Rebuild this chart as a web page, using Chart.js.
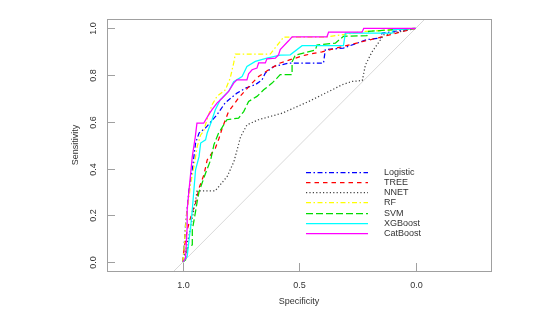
<!DOCTYPE html>
<html lang="en">
<head>
<meta charset="UTF-8">
<script src="https://cdn.jsdelivr.net/npm/chart.js"></script>
<title>ROC</title>
<style>
  html, body { margin: 0; padding: 0; background: #fff; }
  #wrap { width: 557px; height: 319px; }
</style>
</head>
<body>
<div id="wrap"><canvas id="roc"></canvas></div>
<script>
    // valores (especificidade / sensibilidade)
    const modelNames = ['Logistic', 'TREE', 'NNET', 'RF', 'SVM', 'XGBoost', 'CatBoost'];

    const logisticSpec = [1, 0.989, 0.974, 0.960, 0.946, 0.931, 0.904, 0.854, 0.818, 0.768, 0.732, 0.689, 0.660, 0.646, 0.610, 0.547, 0.396, 0.388, 0.310, 0.209, 0.152, 0.144, 0.037, 0];
    const logisticSens = [0, 0.159, 0.309, 0.394, 0.509, 0.552, 0.573, 0.630, 0.682, 0.723, 0.744, 0.759, 0.780, 0.809, 0.837, 0.851, 0.851, 0.909, 0.916, 0.952, 0.959, 0.980, 0.995, 1];

    const treeSpec = [1, 0.996, 0.982, 0.960, 0.946, 0.931, 0.910, 0.896, 0.861, 0.845, 0.831, 0.804, 0.761, 0.703, 0.675, 0.632, 0.582, 0.539, 0.474, 0.402, 0.316, 0.230, 0.144, 0.058, 0];
    const treeSens = [0, 0.051, 0.137, 0.216, 0.252, 0.316, 0.373, 0.437, 0.487, 0.530, 0.574, 0.644, 0.702, 0.766, 0.794, 0.823, 0.852, 0.866, 0.886, 0.900, 0.922, 0.943, 0.964, 0.986, 1];

    const nnetSpec = [1, 0.969, 0.939, 0.862, 0.810, 0.781, 0.752, 0.725, 0.676, 0.574, 0.460, 0.359, 0.316, 0.273, 0.229, 0.216, 0.187, 0.152, 0.138, 0];
    const nnetSens = [0, 0.137, 0.304, 0.304, 0.366, 0.430, 0.537, 0.587, 0.609, 0.637, 0.687, 0.737, 0.759, 0.773, 0.777, 0.843, 0.900, 0.950, 0.972, 1];

    const rfSpec = [1, 0.996, 0.989, 0.982, 0.974, 0.967, 0.953, 0.939, 0.924, 0.911, 0.897, 0.875, 0.854, 0.818, 0.797, 0.782, 0.775, 0.625, 0.567, 0.388, 0.273, 0.216, 0];
    const rfSens = [0, 0.051, 0.151, 0.223, 0.280, 0.337, 0.408, 0.494, 0.544, 0.561, 0.609, 0.673, 0.709, 0.737, 0.787, 0.852, 0.890, 0.890, 0.963, 0.963, 0.979, 0.987, 1];

    const svmSpec = [1, 0.989, 0.982, 0.960, 0.960, 0.946, 0.939, 0.931, 0.903, 0.881, 0.867, 0.847, 0.825, 0.811, 0.761, 0.739, 0.718, 0.682, 0.653, 0.617, 0.596, 0.582, 0.531, 0.531, 0.517, 0.431, 0.424, 0.345, 0.310, 0.209, 0.202, 0.095, 0];
    const svmSens = [0, 0.009, 0.059, 0.073, 0.137, 0.216, 0.258, 0.301, 0.380, 0.437, 0.502, 0.552, 0.587, 0.609, 0.616, 0.644, 0.687, 0.709, 0.737, 0.766, 0.787, 0.802, 0.802, 0.857, 0.886, 0.907, 0.929, 0.937, 0.966, 0.969, 0.987, 0.995, 1];

    const xgbSpec = [1, 0.982, 0.974, 0.967, 0.960, 0.953, 0.946, 0.931, 0.924, 0.903, 0.896, 0.875, 0.861, 0.840, 0.804, 0.782, 0.746, 0.725, 0.689, 0.639, 0.582, 0.539, 0.488, 0.310, 0.302, 0.101, 0.095, 0];
    const xgbSens = [0, 0.023, 0.094, 0.151, 0.223, 0.309, 0.394, 0.451, 0.509, 0.523, 0.552, 0.609, 0.652, 0.694, 0.730, 0.772, 0.794, 0.837, 0.859, 0.873, 0.886, 0.887, 0.926, 0.926, 0.980, 0.980, 0.995, 1];

    const catSpec = [1, 0.989, 0.982, 0.982, 0.974, 0.967, 0.960, 0.947, 0.940, 0.911, 0.890, 0.875, 0.854, 0.832, 0.804, 0.782, 0.768, 0.725, 0.718, 0.703, 0.682, 0.675, 0.646, 0.639, 0.603, 0.589, 0.582, 0.546, 0.531, 0.381, 0.374, 0.230, 0.223, 0];
    const catSens = [0, 0.016, 0.151, 0.223, 0.309, 0.380, 0.451, 0.537, 0.594, 0.594, 0.630, 0.652, 0.680, 0.701, 0.730, 0.766, 0.780, 0.780, 0.806, 0.823, 0.830, 0.852, 0.852, 0.870, 0.873, 0.887, 0.909, 0.947, 0.964, 0.964, 0.984, 0.984, 1.0, 1];

    const xTicks = [1.0, 0.5, 0.0];
    const yTicks = [0.0, 0.2, 0.4, 0.6, 0.8, 1.0];

    const specs = [logisticSpec, treeSpec, nnetSpec, rfSpec, svmSpec, xgbSpec, catSpec];
    const senss = [logisticSens, treeSens, nnetSens, rfSens, svmSens, xgbSens, catSens];

    const cores = ['#0000ff', '#ff0000', '#444444', '#ffff00', '#00dd00', '#00ffff', '#ff00ff'];
    const tracos = [[5, 2.5, 1.5, 2.5], [4.5, 4], [1.2, 2.2], [5, 2.5, 1.5, 2.5], [7, 3], [], []];

    const FONT = '9px "Liberation Sans", Arial, sans-serif';
    const TXT = '#333333';
    const AXIS = '#a0a0a0';
    const LW = 1.25;

    var datasets = modelNames.map((nome, i) => ({
        label: nome,
        data: specs[i].map((s, k) => ({ x: s, y: senss[i][k] })),
        borderColor: cores[i],
        borderDash: tracos[i],
        borderWidth: LW,
        pointRadius: 0,
        showLine: true,
        tension: 0,
        order: modelNames.length - i // CatBoost por cima
    }));

    // diagonal de referência
    datasets.push({
        label: 'diag',
        data: [{ x: 1.5, y: -0.5 }, { x: -0.5, y: 1.5 }],
        borderColor: '#d8d8d8',
        borderWidth: 1,
        pointRadius: 0,
        showLine: true,
        order: 99
    });

    const moldura = {
        id: 'moldura',
        afterDraw(chart) {
            const ctx = chart.ctx;
            const a = chart.chartArea;
            const xs = chart.scales.x, ys = chart.scales.y;
            ctx.save();
            ctx.strokeStyle = AXIS;
            ctx.lineWidth = 1;
            ctx.strokeRect(Math.round(a.left) + 0.5, Math.round(a.top) + 0.5, Math.round(a.right - a.left), Math.round(a.bottom - a.top));

            ctx.font = FONT;
            ctx.fillStyle = TXT;
            // ticks eixo x (para dentro)
            ctx.textAlign = 'center';
            ctx.textBaseline = 'middle';
            xTicks.forEach(v => {
                const px = Math.round(xs.getPixelForValue(v)) + 0.5;
                ctx.beginPath();
                ctx.moveTo(px, a.bottom);
                ctx.lineTo(px, a.bottom - 8);
                ctx.stroke();
                ctx.fillText(v.toFixed(1), px, 286);
            });
            // ticks eixo y
            yTicks.forEach(v => {
                const py = Math.round(ys.getPixelForValue(v)) + 0.5;
                ctx.beginPath();
                ctx.moveTo(a.left, py);
                ctx.lineTo(a.left + 8, py);
                ctx.stroke();
                ctx.save();
                ctx.translate(93.5, py);
                ctx.rotate(-Math.PI / 2);
                ctx.fillText(v.toFixed(1), 0, 0);
                ctx.restore();
            });
            // títulos
            ctx.fillText('Specificity', (a.left + a.right) / 2, 302);
            ctx.save();
            ctx.translate(76, (a.top + a.bottom) / 2);
            ctx.rotate(-Math.PI / 2);
            ctx.fillText('Sensitivity', 0, 0);
            ctx.restore();

            // legenda
            ctx.textAlign = 'left';
            modelNames.forEach((nome, i) => {
                const y = Math.round(171.5 + i * 10.3) + 0.5;
                ctx.strokeStyle = cores[i];
                ctx.lineWidth = LW;
                ctx.setLineDash(tracos[i]);
                ctx.beginPath();
                ctx.moveTo(306, y);
                ctx.lineTo(368, y);
                ctx.stroke();
                ctx.setLineDash([]);
                ctx.fillText(nome, 384, y);
            });
            ctx.restore();
        }
    };

    var ctx = document.getElementById('roc').getContext('2d');
    var chartRoc = new Chart(ctx, {
        type: 'scatter',
        data: { datasets: datasets },
        options: {
            responsive: true,
            maintainAspectRatio: false,
            animation: false,
            layout: { padding: { left: 107, right: 66, top: 19, bottom: 48 } },
            scales: {
                x: { type: 'linear', display: false, reverse: true, min: -0.3242, max: 1.3267 },
                y: { type: 'linear', display: false, min: -0.0386, max: 1.0403 }
            },
            plugins: {
                legend: { display: false },
                tooltip: { enabled: false }
            }
        },
        plugins: [moldura]
    });
</script>
</body>
</html>
